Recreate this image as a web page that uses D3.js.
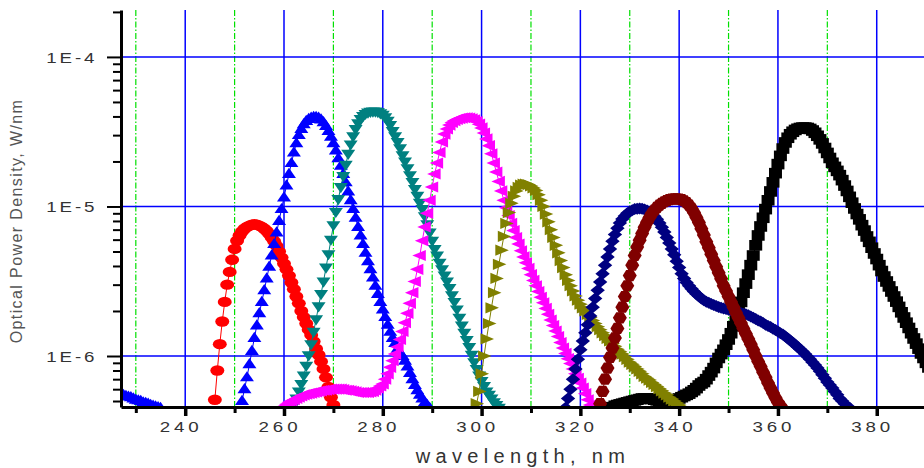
<!DOCTYPE html>
<html>
<head>
<meta charset="utf-8">
<script src="https://cdn.jsdelivr.net/npm/d3@7"></script>
<style>
  html, body { margin: 0; padding: 0; background: #fff; }
  svg { display: block; font-family: "Liberation Sans", Arial, sans-serif; }
</style>
</head>
<body>
<svg id="chart" width="924" height="468"></svg>
<script>
// ---- data -------------------------------------------------------------
// Spectra sampled every 0.5 nm; values in µW/nm, starting at the listed wavelength.
const STEP_NM = 0.5;
const UW = 1e-6;

const seriesKeys   = ["tail", "led254", "led266", "led278", "led297", "led365", "led309", "led332", "led340"];
const seriesStart  = [227, 246, 251.5, 262, 259.5, 326, 299, 317, 323.5];
const seriesColors = ["#0000ff", "#ff0000", "#0000ff", "#008080", "#ff00ff", "#000000", "#808000", "#000080", "#800000"];
const seriesMarker = ["triUp", "circle", "triUp", "triDown", "triLeft", "square", "triRight", "diamond", "hexagon"];

const tail = [0.56, 0.55, 0.54, 0.535, 0.53, 0.52, 0.51, 0.505, 0.50, 0.49,
  0.485, 0.48, 0.47, 0.465, 0.46, 0.455, 0.45];

const led254 = [0.51, 0.80, 1.2, 1.7, 2.3, 3.0, 3.65, 4.4, 5.2, 5.9,
  6.4, 6.8, 7.1, 7.3, 7.45, 7.55, 7.6, 7.55, 7.45, 7.3,
  7.1, 6.85, 6.55, 6.2, 5.85, 5.45, 5.0, 4.55, 4.15, 3.8,
  3.45, 3.1, 2.8, 2.5, 2.25, 2.0, 1.82, 1.65, 1.5, 1.38,
  1.25, 1.12, 1.02, 0.92, 0.82, 0.72, 0.62, 0.53, 0.47, 0.42];

const led266 = [0.50, 0.60, 0.72, 0.88, 1.08, 1.32, 1.6, 1.93, 2.3, 2.75,
  3.3, 3.95, 4.7, 5.6, 6.7, 8.0, 9.6, 11.5, 13.8, 16.5,
  19.5, 23, 26.5, 30, 33, 35.5, 37.3, 38.5, 39.3, 39.7,
  39.7, 39.2, 38.2, 36.6, 34.5, 32, 29.3, 26.5, 23.7, 21,
  18.7, 16.5, 14.5, 12.6, 11, 9.6, 8.4, 7.3, 6.4, 5.6,
  4.9, 4.3, 3.8, 3.35, 2.95, 2.6, 2.3, 2.05, 1.82, 1.62,
  1.45, 1.32, 1.22, 1.12, 1.05, 1.0, 0.93, 0.85, 0.77, 0.70,
  0.64, 0.59, 0.55, 0.52, 0.49, 0.47, 0.45];

const led278 = [0.47, 0.52, 0.58, 0.65, 0.74, 0.86, 1.01, 1.2, 1.45, 1.76,
  2.15, 2.6, 3.15, 3.9, 4.8, 6.0, 7.5, 9.2, 11.2, 13.5,
  16, 19, 22.5, 26, 29.5, 33, 36, 38.5, 40.3, 41.6,
  42.5, 43, 43.2, 43.2, 42.8, 42, 41, 39.5, 37.5, 35,
  32, 29.5, 27, 24.5, 22, 20, 18, 16.2, 14.6, 13.1,
  11.8, 10.6, 9.6, 8.6, 7.6, 6.7, 5.9, 5.2, 4.7, 4.2,
  3.8, 3.45, 3.15, 2.85, 2.55, 2.3, 2.05, 1.8, 1.6, 1.43,
  1.28, 1.15, 1.02, 0.91, 0.82, 0.74, 0.68, 0.63, 0.58, 0.55,
  0.52, 0.49, 0.47, 0.45];

const led297 = [0.44, 0.46, 0.475, 0.49, 0.50, 0.51, 0.52, 0.53, 0.54, 0.55,
  0.555, 0.56, 0.565, 0.57, 0.575, 0.58, 0.585, 0.59, 0.59, 0.595,
  0.6, 0.6, 0.6, 0.6, 0.6, 0.595, 0.59, 0.59, 0.585, 0.58,
  0.575, 0.57, 0.57, 0.57, 0.57, 0.57, 0.575, 0.58, 0.59, 0.61,
  0.63, 0.65, 0.7, 0.76, 0.84, 0.93, 1.03, 1.15, 1.29, 1.46,
  1.67, 1.93, 2.25, 2.65, 3.15, 3.8, 4.7, 5.9, 7.3, 9.0,
  11, 13.5, 16.5, 19.5, 23, 27, 30.5, 33, 35, 36.5,
  37.5, 38.2, 38.7, 39, 39.2, 39.2, 39, 38.6, 38, 37,
  35.5, 33.5, 31, 28.3, 25.5, 22.5, 19.5, 17, 14.7, 12.7,
  11, 9.8, 8.7, 7.7, 6.9, 6.2, 5.6, 5.05, 4.6, 4.2,
  3.85, 3.5, 3.2, 2.95, 2.7, 2.47, 2.27, 2.08, 1.9, 1.74,
  1.6, 1.47, 1.35, 1.23, 1.13, 1.04, 0.96, 0.89, 0.82, 0.76,
  0.71, 0.66, 0.61, 0.56, 0.51, 0.47, 0.44];

const led309 = [0.48, 0.58, 0.76, 1.0, 1.3, 1.65, 2.1, 2.65, 3.3, 4.1,
  5.1, 6.3, 7.7, 9.1, 10.5, 11.7, 12.7, 13.4, 13.9, 14.1,
  14.1, 14.0, 13.7, 13.3, 12.8, 12.0, 11.0, 10.0, 8.9, 7.9,
  7.0, 6.2, 5.5, 4.9, 4.35, 3.9, 3.5, 3.2, 2.95, 2.72,
  2.52, 2.36, 2.22, 2.1, 2.0, 1.9, 1.81, 1.73, 1.65, 1.57,
  1.5, 1.43, 1.37, 1.31, 1.26, 1.21, 1.16, 1.11, 1.07, 1.03,
  0.99, 0.95, 0.91, 0.88, 0.85, 0.82, 0.79, 0.76, 0.73, 0.71,
  0.69, 0.665, 0.645, 0.625, 0.605, 0.585, 0.565, 0.55, 0.53, 0.515,
  0.50, 0.485, 0.47, 0.455, 0.44];

const led332 = [0.45, 0.52, 0.6, 0.7, 0.82, 0.95, 1.1, 1.26, 1.43, 1.62,
  1.85, 2.12, 2.42, 2.75, 3.12, 3.55, 4.05, 4.6, 5.2, 5.85,
  6.5, 7.15, 7.75, 8.25, 8.65, 9.0, 9.25, 9.45, 9.6, 9.65,
  9.7, 9.65, 9.55, 9.4, 9.2, 8.95, 8.6, 8.2, 7.75, 7.25,
  6.75, 6.2, 5.7, 5.2, 4.75, 4.3, 3.9, 3.55, 3.3, 3.1,
  2.95, 2.82, 2.7, 2.6, 2.51, 2.42, 2.36, 2.31, 2.27, 2.23,
  2.19, 2.16, 2.13, 2.1, 2.08, 2.06, 2.04, 2.02, 2.0, 1.98,
  1.96, 1.94, 1.92, 1.9, 1.87, 1.84, 1.8, 1.77, 1.73, 1.7,
  1.66, 1.62, 1.59, 1.56, 1.52, 1.49, 1.46, 1.42, 1.39, 1.35,
  1.31, 1.27, 1.23, 1.19, 1.15, 1.11, 1.07, 1.03, 0.99, 0.95,
  0.91, 0.87, 0.83, 0.79, 0.75, 0.71, 0.67, 0.64, 0.61, 0.58,
  0.55, 0.52, 0.5, 0.48, 0.46, 0.45];

const led340 = [0.42, 0.48, 0.58, 0.7, 0.83, 0.98, 1.13, 1.32, 1.53, 1.8,
  2.12, 2.5, 2.95, 3.45, 4.05, 4.7, 5.35, 5.95, 6.6, 7.25,
  7.85, 8.45, 9.0, 9.45, 9.85, 10.2, 10.5, 10.75, 10.95, 11.1,
  11.2, 11.25, 11.25, 11.2, 11.1, 10.9, 10.6, 10.2, 9.7, 9.1,
  8.45, 7.8, 7.1, 6.45, 5.8, 5.3, 4.8, 4.35, 3.95, 3.6,
  3.28, 2.95, 2.72, 2.5, 2.3, 2.12, 1.95, 1.8, 1.66, 1.53,
  1.41, 1.3, 1.2, 1.1, 1.0, 0.92, 0.85, 0.78, 0.72, 0.66,
  0.61, 0.565, 0.525, 0.49, 0.465, 0.44, 0.42];

const led365 = [0.44, 0.455, 0.465, 0.47, 0.475, 0.48, 0.485, 0.49, 0.495, 0.5,
  0.505, 0.51, 0.515, 0.52, 0.52, 0.52, 0.52, 0.515, 0.51, 0.505,
  0.5, 0.5, 0.495, 0.495, 0.5, 0.505, 0.51, 0.515, 0.52, 0.53,
  0.54, 0.55, 0.56, 0.575, 0.59, 0.61, 0.635, 0.655, 0.67, 0.7,
  0.74, 0.78, 0.83, 0.9, 0.97, 1.03, 1.1, 1.19, 1.29, 1.42,
  1.58, 1.78, 2.02, 2.3, 2.65, 3.05, 3.5, 4.05, 4.7, 5.5,
  6.4, 7.35, 8.4, 9.6, 11, 12.6, 14.5, 16.7, 19.2, 21.8,
  24.4, 26.8, 28.8, 30.4, 31.6, 32.5, 33.1, 33.5, 33.7, 33.7,
  33.5, 33, 32.2, 31.1, 29.7, 28.1, 26.4, 24.6, 22.8, 21.1,
  19.6, 18.4, 17.3, 16.2, 15.0, 13.8, 12.7, 11.6, 10.6, 9.7,
  8.9, 8.2, 7.5, 6.9, 6.3, 5.8, 5.3, 4.85, 4.45, 4.05,
  3.7, 3.4, 3.15, 2.92, 2.7, 2.5, 2.31, 2.13, 1.96, 1.81,
  1.67, 1.54, 1.42, 1.31, 1.21, 1.12, 1.04, 0.97, 0.9, 0.84,
  0.78, 0.73, 0.68];

const seriesValues = { tail, led254, led266, led278, led297, led309, led332, led340, led365 };

// axis ticks and labels
const xMajorTicks = [240, 260, 280, 300, 320, 340, 360, 380];
const xMinorTicks = [230, 250, 270, 290, 310, 330, 350, 370, 390];
const yMajorTicks = [1e-4, 1e-5, 1e-6];
const yMajorLabels = ["1E-4", "1E-5", "1E-6"];
const yMinorTicks = [2e-4,
  9e-5, 8e-5, 7e-5, 6e-5, 5e-5, 4e-5, 3e-5, 2e-5,
  9e-6, 8e-6, 7e-6, 6e-6, 5e-6, 4e-6, 3e-6, 2e-6,
  9e-7, 8e-7, 7e-7, 6e-7, 5e-7];
const xTitle = "wavelength, nm";
const yTitle = "Optical Power Density, W/nm";

// ---- layout -----------------------------------------------------------
const svg = d3.select("#chart");
const plotLeft = 121, plotTop = 10, plotBottom = 407, plotRight = 936;

const x = d3.scaleLinear().domain([227, 392]).range([plotLeft, plotRight]);
const y = d3.scaleLog().domain([4.56e-7, 2.06e-4]).range([plotBottom, plotTop]);

// ---- grid -------------------------------------------------------------
const grid = svg.append("g");
grid.selectAll("line.minor-x").data(xMinorTicks).join("line")
  .attr("class", "minor-x")
  .attr("x1", d => x(d)).attr("x2", d => x(d))
  .attr("y1", plotTop).attr("y2", plotBottom)
  .attr("stroke", "#00e000").attr("stroke-width", 1.2)
  .attr("stroke-dasharray", "6,2,1.5,2");
grid.selectAll("line.major-x").data(xMajorTicks).join("line")
  .attr("class", "major-x")
  .attr("x1", d => x(d)).attr("x2", d => x(d))
  .attr("y1", plotTop).attr("y2", plotBottom)
  .attr("stroke", "#0000ff").attr("stroke-width", 1.5);
grid.selectAll("line.major-y").data(yMajorTicks).join("line")
  .attr("class", "major-y")
  .attr("x1", plotLeft).attr("x2", plotRight)
  .attr("y1", d => y(d)).attr("y2", d => y(d))
  .attr("stroke", "#0000ff").attr("stroke-width", 1.5);

// ---- spectra ----------------------------------------------------------
svg.append("clipPath").attr("id", "plotClip")
  .append("rect").attr("x", plotLeft).attr("y", 0)
  .attr("width", plotRight - plotLeft).attr("height", plotBottom + 1);

// marker outlines, a little wider than tall
const markerShapes = {
  circle:   "M-7,0A7,5.2 0 1,0 7,0A7,5.2 0 1,0 -7,0Z",
  triUp:    "M0,-6.2L7,4L-7,4Z",
  triDown:  "M0,6.2L7,-4L-7,-4Z",
  triLeft:  "M-7.5,0L6,-5.6L6,5.6Z",
  triRight: "M7.5,0L-6,-5.6L-6,5.6Z",
  diamond:  "M-7.2,0L0,-6L7.2,0L0,6Z",
  hexagon:  "M-7,0L-3.6,-5.6L3.6,-5.6L7,0L3.6,5.6L-3.6,5.6Z",
  square:   "M-6.5,-5.3H6.5V5.3H-6.5Z"
};

const plotArea = svg.append("g").attr("clip-path", "url(#plotClip)");
const line = d3.line().x(d => x(d.nm)).y(d => y(d.v));

seriesKeys.forEach((key, i) => {
  const pts = seriesValues[key].map((v, j) => ({ nm: seriesStart[i] + j * STEP_NM, v: v * UW }));
  const g = plotArea.append("g");
  g.append("path").datum(pts)
    .attr("d", line).attr("fill", "none")
    .attr("stroke", seriesColors[i]).attr("stroke-width", 1);
  g.selectAll("path.mk").data(pts).join("path")
    .attr("class", "mk")
    .attr("d", markerShapes[seriesMarker[i]])
    .attr("transform", d => `translate(${x(d.nm)},${y(d.v)})`)
    .attr("fill", seriesColors[i]);
});

// ---- axes -------------------------------------------------------------
const xMinorAxis = svg.append("g").attr("transform", `translate(0,${plotBottom})`)
  .call(d3.axisBottom(x).tickValues(xMinorTicks).tickSize(6).tickSizeOuter(0).tickFormat(""));
xMinorAxis.select(".domain").remove();
xMinorAxis.selectAll(".tick line").attr("stroke", "#000").attr("stroke-width", 3);

const xMajorAxis = svg.append("g").attr("transform", `translate(0,${plotBottom})`)
  .call(d3.axisBottom(x).tickValues(xMajorTicks).tickSize(9).tickSizeOuter(0).tickFormat(""));
xMajorAxis.select(".domain").attr("stroke", "#000").attr("stroke-width", 3);
xMajorAxis.selectAll(".tick line").attr("stroke", "#000").attr("stroke-width", 3.5);

const yMinorAxis = svg.append("g").attr("transform", `translate(${plotLeft},0)`)
  .call(d3.axisLeft(y).tickValues(yMinorTicks).tickSize(8).tickSizeOuter(0).tickFormat(""));
yMinorAxis.select(".domain").remove();
yMinorAxis.selectAll(".tick line").attr("stroke", "#000").attr("stroke-width", 2);

const yMajorAxis = svg.append("g").attr("transform", `translate(${plotLeft},0)`)
  .call(d3.axisLeft(y).tickValues(yMajorTicks).tickSize(14).tickSizeOuter(0).tickFormat(""));
yMajorAxis.select(".domain").attr("stroke", "#000").attr("stroke-width", 3);
yMajorAxis.selectAll(".tick line").attr("stroke", "#000").attr("stroke-width", 2);

// tick labels
svg.append("g").selectAll("text").data(xMajorTicks).join("text")
  .attr("transform", d => `translate(${x(d) - 4},431.5) scale(1.25,1)`)
  .attr("text-anchor", "middle")
  .style("font-size", "15px").style("letter-spacing", "3.1px")
  .attr("fill", "#333")
  .text(d => d);

svg.append("g").selectAll("text").data(yMajorTicks).join("text")
  .attr("transform", d => `translate(46.3,${y(d) + 5.6}) scale(1.25,1)`)
  .attr("text-anchor", "start")
  .style("font-size", "15px").style("letter-spacing", "2.3px")
  .attr("fill", "#333")
  .text((d, i) => yMajorLabels[i]);

// axis titles
svg.append("text")
  .attr("transform", "translate(523,463.3)")
  .attr("text-anchor", "middle")
  .style("font-size", "20px").style("letter-spacing", "5.3px")
  .attr("fill", "#333")
  .text(xTitle);

svg.append("text")
  .attr("transform", "translate(21.5,221) rotate(-90)")
  .attr("text-anchor", "middle")
  .style("font-size", "16px").style("letter-spacing", "1.4px")
  .attr("fill", "#555")
  .text(yTitle);
</script>
</body>
</html>
